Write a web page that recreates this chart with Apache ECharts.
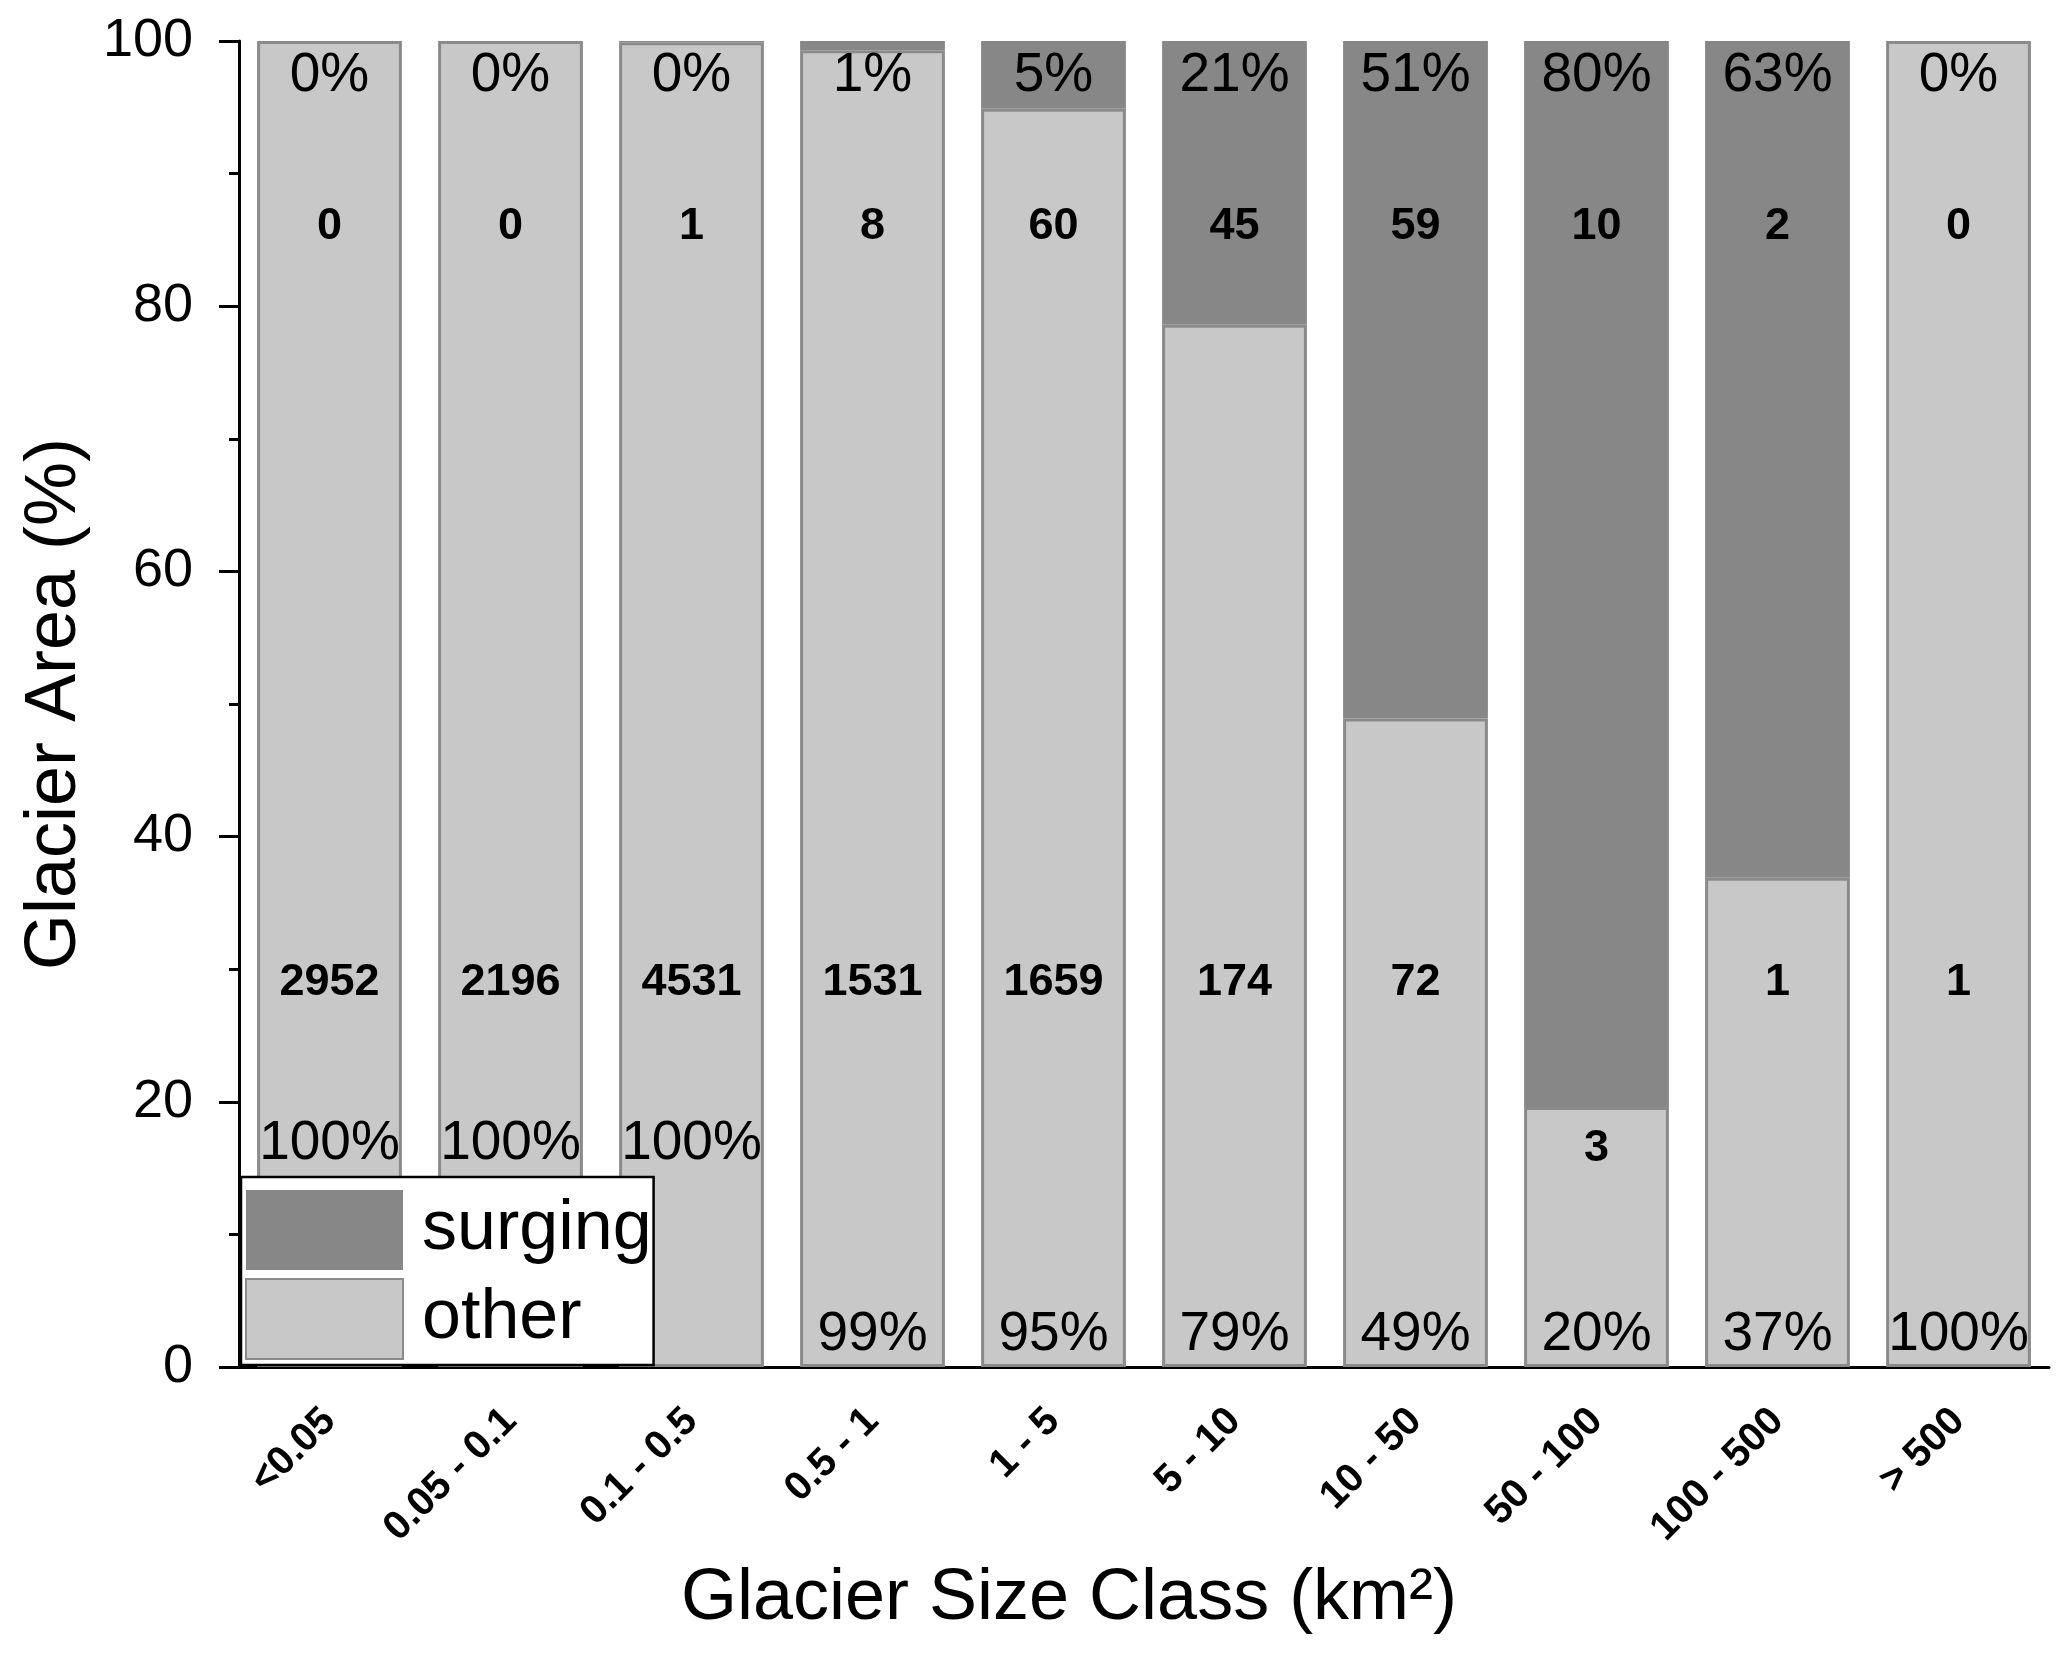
<!DOCTYPE html>
<html><head><meta charset="utf-8">
<script src="https://cdn.jsdelivr.net/npm/echarts@6/dist/echarts.min.js"></script>
<style>html,body{margin:0;padding:0;background:#fff}#c{width:2067px;height:1655px}</style>
</head><body><div id="c"></div>
<script>
const categories = ['<0.05','0.05 - 0.1','0.1 - 0.5','0.5 - 1','1 - 5','5 - 10','10 - 50','50 - 100','100 - 500','> 500'];
const otherArea = [100,100,99.9,99.3,94.9,78.6,48.9,19.6,36.9,100];
const surgingArea = [0,0,0.1,0.7,5.1,21.4,51.1,80.4,63.1,0];
const surgingCount = [0,0,1,8,60,45,59,10,2,0];
const otherCount = [2952,2196,4531,1531,1659,174,72,3,1,1];
const yTicks = [0,20,40,60,80,100];

const FF = '"Liberation Sans", Arial, sans-serif';
const C_SURGE = '#878787', C_OTHER = '#c8c8c8', C_BORDER = '#8a8a8a';

// label rows (text + y position in data units)
const labelRows = [];
categories.forEach((c, i) => {
  labelRows.push([i, 97.4, Math.round(surgingArea[i]) + '%', 'n']);
  labelRows.push([i, 86, String(surgingCount[i]), 'b']);
  labelRows.push([i, Math.min(29, otherArea[i] - 3.1), String(otherCount[i]), 'b']);
  labelRows.push([i, i < 3 ? 16.8 : 2.4, Math.round(otherArea[i]) + '%', 'n']);
});

const chart = echarts.init(document.getElementById('c'), null, {renderer: 'canvas'});
chart.setOption({
  animation: false,
  backgroundColor: '#fff',
  grid: {left: 239, right: 18, top: 41, bottom: 288, containLabel: false},
  legend: {
    data: [{name: 'surging', icon: 'rect'}, {name: 'other', icon: 'rect'}],
    orient: 'vertical',
    left: 241, top: 1177,
    itemWidth: 157, itemHeight: 80, itemGap: 8,
    padding: [13, 2, 5, 4],
    backgroundColor: '#fff',
    borderColor: '#000', borderWidth: 2.5,
    textStyle: {fontFamily: FF, fontSize: 70, color: '#000', padding: [0, 0, 0, 14]},
    z: 10
  },
  xAxis: {
    type: 'category',
    data: categories,
    axisLine: {lineStyle: {color: '#000', width: 3}},
    axisTick: {show: false},
    axisLabel: {rotate: 45, fontFamily: FF, fontWeight: 'bold', fontSize: 40, color: '#000', margin: 48, interval: 0},
    name: 'Glacier Size Class (km²)',
    nameLocation: 'middle', nameGap: 196,
    nameTextStyle: {fontFamily: FF, fontSize: 72, color: '#000', padding: [0, 150, 0, 0]}
  },
  yAxis: {
    type: 'value', min: yTicks[0], max: yTicks[yTicks.length - 1], interval: 20,
    axisLine: {show: true, lineStyle: {color: '#000', width: 3}},
    axisTick: {show: true, length: 20, lineStyle: {width: 3, color: '#000'}},
    minorTick: {show: true, splitNumber: 2, length: 10, lineStyle: {width: 3, color: '#000'}},
    splitLine: {show: false},
    axisLabel: {fontFamily: FF, fontSize: 54, color: '#000', margin: 46},
    name: 'Glacier Area (%)',
    nameLocation: 'middle', nameGap: 148,
    nameTextStyle: {fontFamily: FF, fontSize: 72, color: '#000'}
  },
  series: [
    {
      name: 'other', type: 'bar', stack: 'a', data: otherArea,
      barCategoryGap: '20%',
      itemStyle: {color: C_OTHER, borderColor: C_BORDER, borderWidth: 3}
    },
    {
      name: 'surging', type: 'bar', stack: 'a', data: surgingArea,
      itemStyle: {color: C_SURGE, borderColor: C_SURGE, borderWidth: 0}
    },
    {
      type: 'custom', data: labelRows, z: 5, silent: true,
      renderItem: function (params, api) {
        const p = api.coord([api.value(0), api.value(1)]);
        const row = labelRows[params.dataIndex];
        const bold = row[3] === 'b';
        return {
          type: 'text', x: p[0], y: p[1],
          style: {
            text: row[2], fill: '#000',
            font: (bold ? 'bold 45px ' : '55px ') + FF,
            align: 'center', verticalAlign: 'middle'
          }
        };
      }
    }
  ]
});
</script></body></html>
